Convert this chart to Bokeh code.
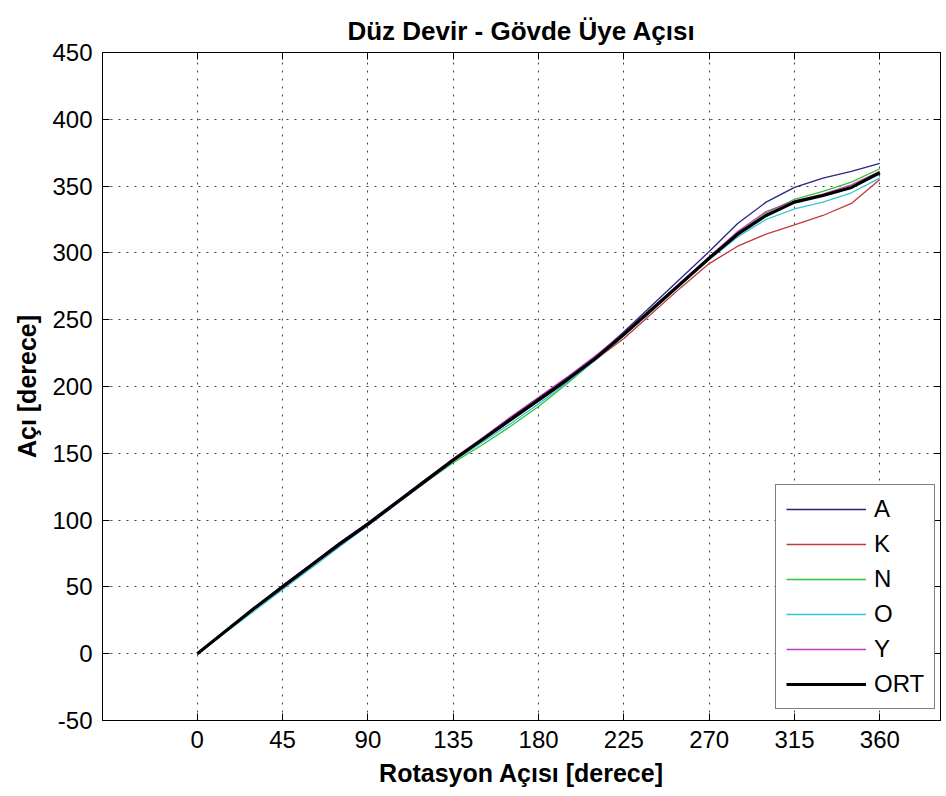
from bokeh.plotting import figure
from bokeh.models import (Range1d, FixedTicker, LinearAxis, Legend, LegendItem,
                          CustomJSTickFormatter)
from bokeh.embed import file_html
from bokeh.resources import INLINE

# Rotation angle samples (degrees)
rotasyon = [0, 15, 30, 45, 60, 75, 90, 105, 120, 135, 150, 165, 180,
            195, 210, 225, 240, 255, 270, 285, 300, 315, 330, 345, 360]

# Trunk-limb angle for each subject and the average (degrees)
aci_A = [0, 17, 34, 51, 67, 83, 98, 114, 130, 145, 160, 176, 191,
         206, 222, 241, 261, 281, 301, 322, 338, 349, 356, 361, 367]
aci_K = [0, 17, 33, 50, 66, 81, 96, 112, 128, 144, 159, 174, 189,
         204, 220, 236, 255, 274, 292, 305, 314, 321, 328, 337, 355]
aci_N = [0, 17, 34, 50, 66, 82, 97, 113, 128, 143, 156, 170, 185,
         202, 220, 238, 257, 277, 296, 315, 330, 340, 346, 353, 363]
aci_O = [0, 16, 32, 48, 64, 80, 96, 112, 128, 144, 158, 172, 187,
         203, 220, 238, 257, 276, 295, 312, 325, 333, 338, 345, 356]
aci_Y = [0, 17, 34, 51, 67, 83, 98, 114, 130, 146, 161, 177, 192,
         207, 223, 240, 259, 278, 297, 316, 331, 339, 344, 351, 361]
aci_ORT = [0, 17, 34, 50, 66, 82, 97, 113, 129, 145, 160, 175, 190,
           205, 221, 239, 258, 277, 296, 314, 328, 338, 343, 349, 360]

seri_adlari = ["A", "K", "N", "O", "Y", "ORT"]
x_ticks = [0, 45, 90, 135, 180, 225, 270, 315, 360]
y_ticks = [-50, 0, 50, 100, 150, 200, 250, 300, 350, 400, 450]

FONT = "'Liberation Sans', Arial, Helvetica, sans-serif"

p = figure(width=946, height=796, output_backend="svg", toolbar_location=None,
           x_range=Range1d(-50, 392), y_range=Range1d(-50, 450),
           min_border_left=102, min_border_right=6,
           min_border_top=52, min_border_bottom=76,
           title="Düz Devir - Gövde Üye Açısı")

p.background_fill_color = "white"
p.border_fill_color = "white"
p.outline_line_color = "black"
p.outline_line_width = 1

p.title.align = "center"
p.title.vertical_align = "top"
p.title.text_font = FONT
p.title.text_font_size = "26px"
p.title.text_font_style = "bold"
p.title.text_color = "black"
p.title.standoff = 10
if "text_line_height" in p.title.properties():
    p.title.text_line_height = 0.7


def style_axis(ax, ticks, show_labels):
    ax.ticker = FixedTicker(ticks=ticks)
    ax.major_tick_in = 7
    ax.major_tick_out = 0
    ax.minor_tick_line_color = None
    ax.axis_line_color = "black"
    ax.major_tick_line_color = "black"
    ax.major_label_text_font = FONT
    ax.major_label_text_color = "black"
    if show_labels:
        # plain ASCII hyphen for negative values
        ax.formatter = CustomJSTickFormatter(code="return String(tick)")
        ax.major_label_text_font_size = "24px"
        ax.major_label_standoff = 10
    else:
        ax.formatter = CustomJSTickFormatter(code="return ''")
        ax.major_label_text_font_size = "0px"
        ax.major_label_standoff = 0


xa = p.xaxis[0]
ya = p.yaxis[0]
style_axis(xa, x_ticks, True)
style_axis(ya, y_ticks, True)
xa.axis_label = "Rotasyon Açısı [derece]"
ya.axis_label = "Açı [derece]"
for ax in (xa, ya):
    ax.axis_label_text_font = FONT
    ax.axis_label_text_font_size = "25px"
    ax.axis_label_text_font_style = "bold"
    ax.axis_label_text_color = "black"
    ax.axis_label_standoff = 8

top_ax = LinearAxis()
right_ax = LinearAxis()
style_axis(top_ax, x_ticks, False)
style_axis(right_ax, y_ticks, False)
p.add_layout(top_ax, "above")
p.add_layout(right_ax, "right")

for g in (p.xgrid[0], p.ygrid[0]):
    g.grid_line_color = "#222222"
    g.grid_line_alpha = 0.85
    g.grid_line_dash = "2 6"
    g.grid_line_width = 1
p.xgrid[0].ticker = FixedTicker(ticks=x_ticks)
p.ygrid[0].ticker = FixedTicker(ticks=y_ticks)

renkler = ["#262680", "#c23a3a", "#33c433", "#33c8d8", "#c23ac2", "black"]
kalinlik = [1.3, 1.3, 1.3, 1.3, 1.3, 3.2]
veriler = [aci_A, aci_K, aci_N, aci_O, aci_Y, aci_ORT]

items = []
for ad, veri, renk, lw in zip(seri_adlari, veriler, renkler, kalinlik):
    r = p.line(rotasyon, veri, line_color=renk, line_width=lw,
               line_join="round")
    items.append(LegendItem(label=ad, renderers=[r]))

legend = Legend(items=items, location=(673, 11))
legend.label_text_font = FONT
legend.label_text_font_size = "24px"
legend.label_text_color = "black"
legend.glyph_width = 80
legend.glyph_height = 24
legend.label_height = 24
legend.label_width = 50
legend.label_standoff = 8
legend.spacing = 7
legend.padding = 10
legend.margin = 0
legend.border_line_color = "black"
legend.border_line_width = 1
legend.background_fill_color = "white"
legend.background_fill_alpha = 1
p.add_layout(legend, "center")

open("out.html", "w").write(file_html(p, INLINE))
